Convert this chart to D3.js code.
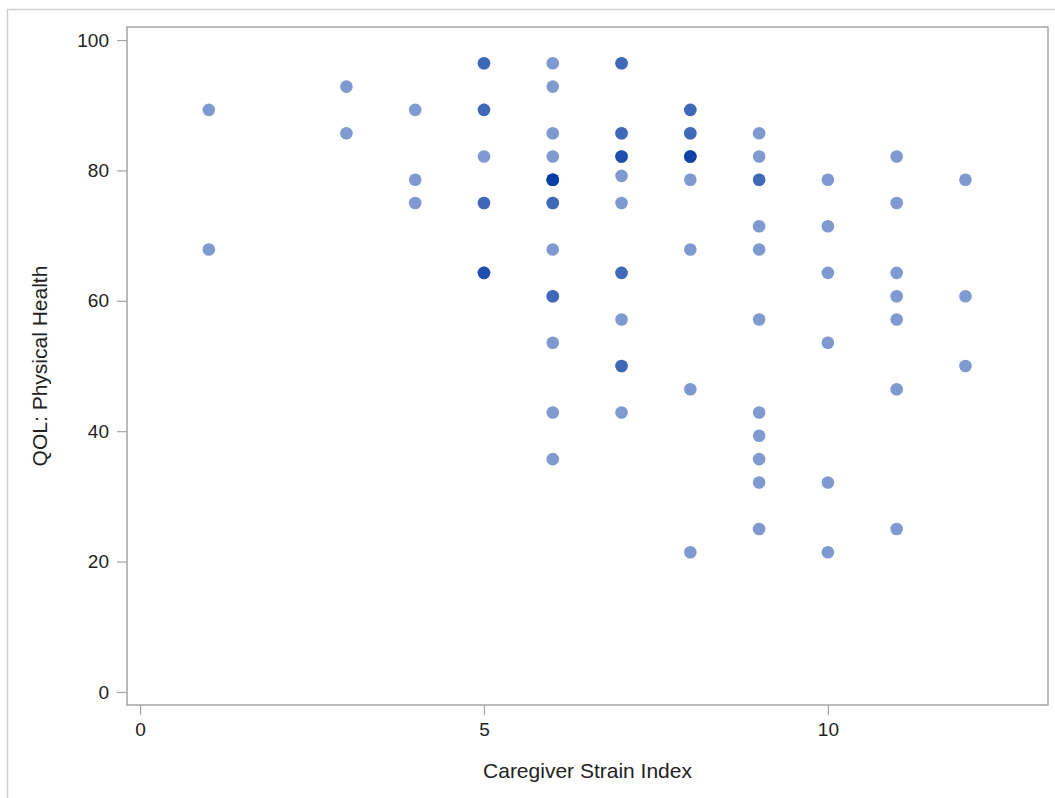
<!DOCTYPE html>
<html lang="en">
<head>
  <meta charset="UTF-8">
  <title>QOL vs Caregiver Strain</title>
  <script src="https://d3js.org/d3.v7.min.js"></script>
  <style>
    body { margin: 0; background: #fff; font-family: 'Liberation Sans', Arial, sans-serif; }
    svg { display: block; }
    .tick text { fill: #222; font-size: 19px; }
    .axis-label { fill: #222; font-size: 21px; }
  </style>
</head>
<body>
  <svg id="chart"></svg>
  <script>
    // each entry is one distinct point; count = number of overlapping observations
    const strain = [1, 1, 3, 3, 4, 4, 4,
      5, 5, 5, 5, 5,
      6, 6, 6, 6, 6, 6, 6, 6, 6, 6, 6,
      7, 7, 7, 7, 7, 7, 7, 7, 7,
      8, 8, 8, 8, 8, 8, 8,
      9, 9, 9, 9, 9, 9, 9, 9, 9, 9, 9,
      10, 10, 10, 10, 10, 10,
      11, 11, 11, 11, 11, 11, 11,
      12, 12, 12];
    const qol = [89.29, 67.86, 92.86, 85.71, 89.29, 78.57, 75,
      96.43, 89.29, 82.14, 75, 64.29,
      96.43, 92.86, 85.71, 82.14, 78.57, 75, 67.86, 60.71, 53.57, 42.86, 35.71,
      96.43, 85.71, 82.14, 79.17, 75, 64.29, 57.14, 50, 42.86,
      89.29, 85.71, 82.14, 78.57, 67.86, 46.43, 21.43,
      85.71, 82.14, 78.57, 71.43, 67.86, 57.14, 42.86, 39.29, 35.71, 32.14, 25,
      78.57, 71.43, 64.29, 53.57, 32.14, 21.43,
      82.14, 75, 64.29, 60.71, 57.14, 46.43, 25,
      78.57, 60.71, 50];
    const count = [1, 1, 1, 1, 1, 1, 1,
      2, 2, 1, 2, 3,
      1, 1, 1, 1, 5, 2, 1, 2, 1, 1, 1,
      2, 2, 3, 1, 1, 2, 1, 2, 1,
      2, 2, 4, 1, 1, 1, 1,
      1, 1, 2, 1, 1, 1, 1, 1, 1, 1, 1,
      1, 1, 1, 1, 1, 1,
      1, 1, 1, 1, 1, 1, 1,
      1, 1, 1];
    const xTicks = [0, 5, 10];
    const yTicks = [0, 20, 40, 60, 80, 100];

    const W = 1055, H = 798;
    const plot = { left: 127, right: 1048, top: 27, bottom: 705 };

    const svg = d3.select("#chart").attr("width", W).attr("height", H);

    // outer border
    svg.append("rect")
      .attr("x", 7.5).attr("y", 9.5)
      .attr("width", W).attr("height", H)
      .attr("fill", "none").attr("stroke", "#cfcfcf").attr("stroke-width", 1.5);

    const x = d3.scaleLinear().domain([-0.19, 13.2]).range([plot.left, plot.right]);
    const y = d3.scaleLinear().domain([-2, 102]).range([plot.bottom, plot.top]);

    // points, drawn once per observation so overlaps darken
    const points = [];
    strain.forEach((s, i) => {
      for (let k = 0; k < count[i]; k++) points.push({ s: s, q: qol[i] });
    });

    svg.append("g").selectAll("circle")
      .data(points)
      .enter().append("circle")
      .attr("cx", d => x(d.s))
      .attr("cy", d => y(d.q))
      .attr("r", 6.3)
      .attr("fill", "rgb(0,53,162)")
      .attr("fill-opacity", 0.5);

    // frame
    svg.append("rect")
      .attr("x", plot.left).attr("y", plot.top)
      .attr("width", plot.right - plot.left).attr("height", plot.bottom - plot.top)
      .attr("fill", "none").attr("stroke", "#a4a4a4").attr("stroke-width", 1.5);

    const xAxis = svg.append("g")
      .attr("transform", `translate(0,${plot.bottom})`)
      .call(d3.axisBottom(x).tickValues(xTicks).tickSize(10).tickPadding(8));
    const yAxis = svg.append("g")
      .attr("transform", `translate(${plot.left},0)`)
      .call(d3.axisLeft(y).tickValues(yTicks).tickSize(10).tickPadding(8));

    [xAxis, yAxis].forEach(g => {
      g.attr("font-family", null).attr("font-size", null);
      g.select(".domain").remove();
      g.selectAll(".tick line").attr("stroke", "#a4a4a4").attr("stroke-width", 1.2);
    });

    svg.append("text")
      .attr("class", "axis-label")
      .attr("x", (plot.left + plot.right) / 2)
      .attr("y", 778)
      .attr("text-anchor", "middle")
      .text("Caregiver Strain Index");

    svg.append("text")
      .attr("class", "axis-label")
      .attr("transform", `translate(47,${(plot.top + plot.bottom) / 2}) rotate(-90)`)
      .attr("text-anchor", "middle")
      .text("QOL: Physical Health");
  </script>
</body>
</html>
